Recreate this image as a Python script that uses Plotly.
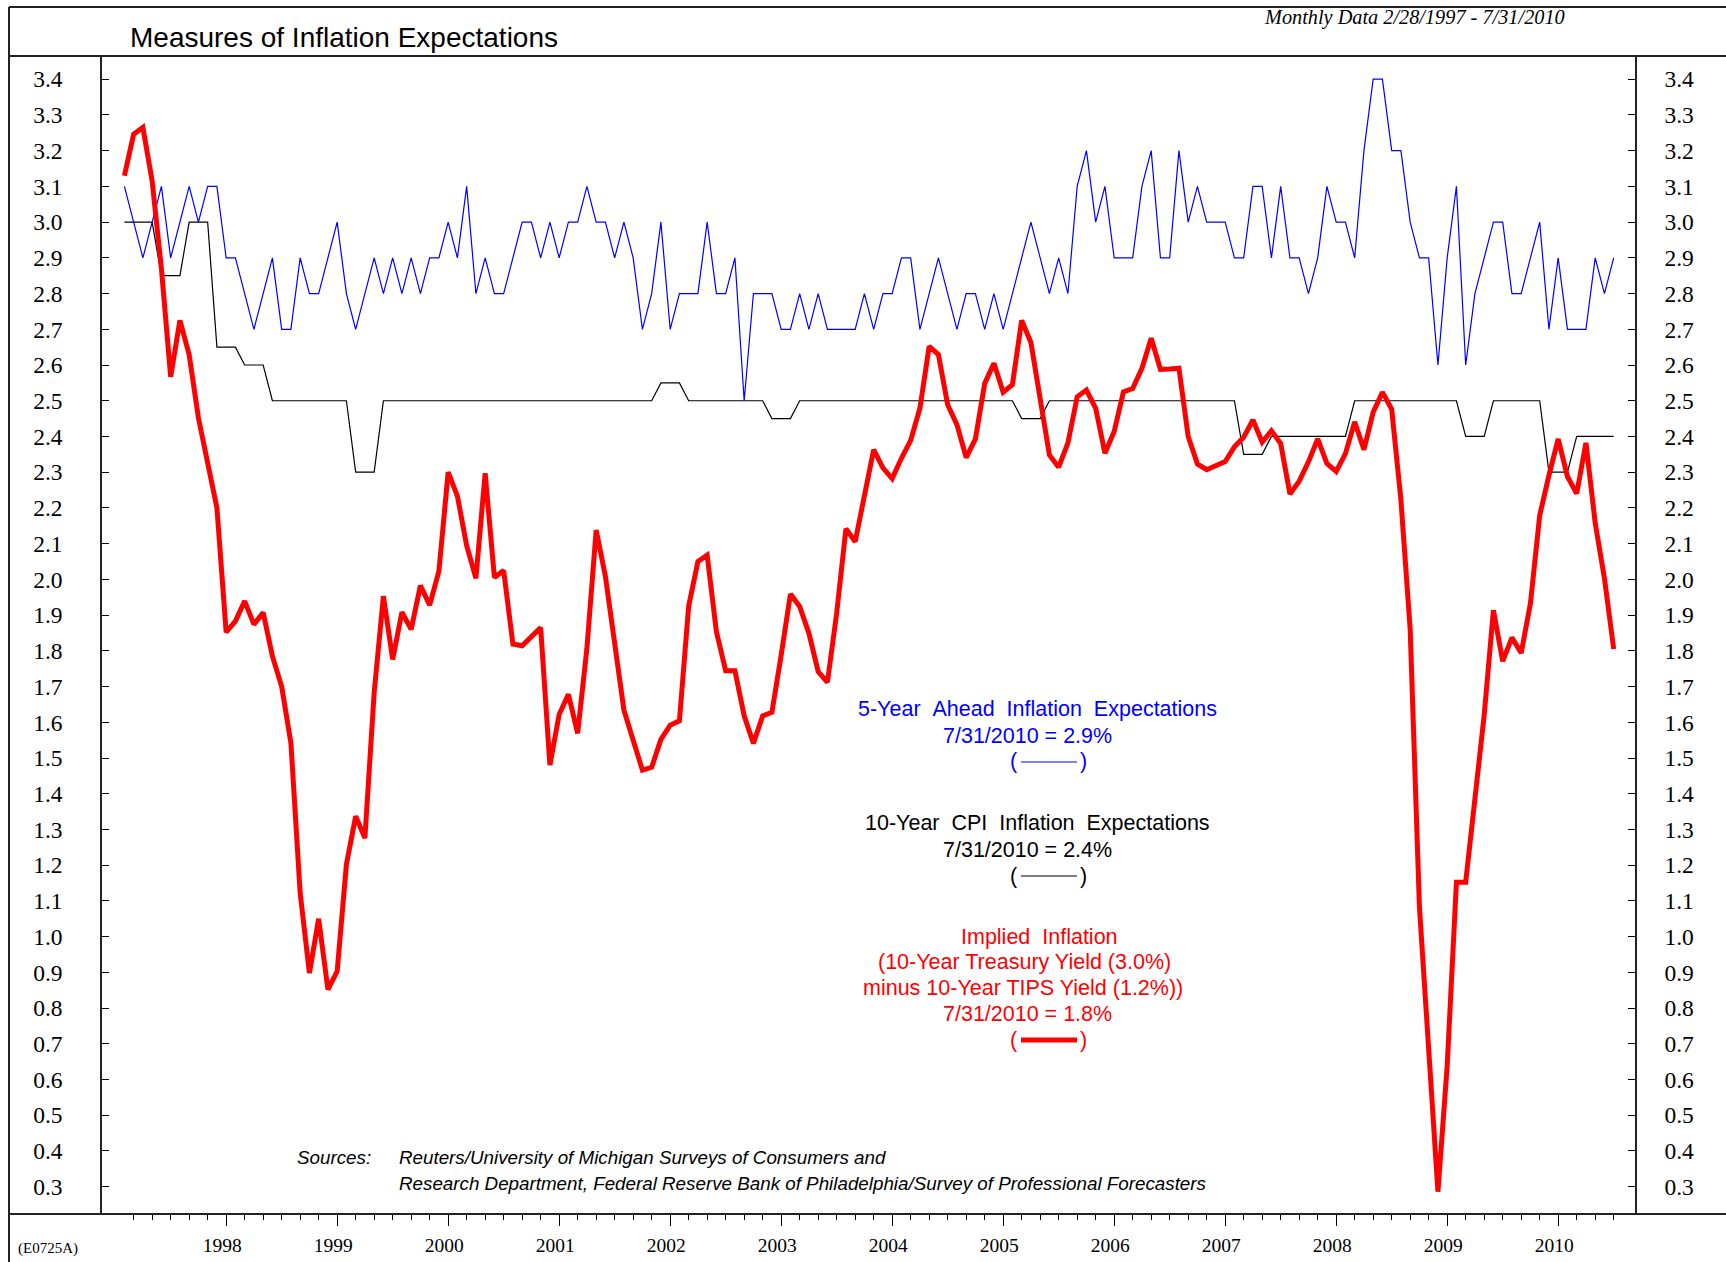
import plotly.graph_objects as go

# ---------------- data (monthly, Feb 1997 .. Jul 2010) ----------------
START_YEAR, START_MONTH, N_MONTHS = 1997, 2, 162

FIVE_YEAR_AHEAD = [
    3.1, 3.0, 2.9, 3.0, 3.1, 2.9, 3.0, 3.1, 3.0, 3.1,
    3.1, 2.9, 2.9, 2.8, 2.7, 2.8, 2.9, 2.7, 2.7, 2.9,
    2.8, 2.8, 2.9, 3.0, 2.8, 2.7, 2.8, 2.9, 2.8, 2.9,
    2.8, 2.9, 2.8, 2.9, 2.9, 3.0, 2.9, 3.1, 2.8, 2.9,
    2.8, 2.8, 2.9, 3.0, 3.0, 2.9, 3.0, 2.9, 3.0, 3.0,
    3.1, 3.0, 3.0, 2.9, 3.0, 2.9, 2.7, 2.8, 3.0, 2.7,
    2.8, 2.8, 2.8, 3.0, 2.8, 2.8, 2.9, 2.5, 2.8, 2.8,
    2.8, 2.7, 2.7, 2.8, 2.7, 2.8, 2.7, 2.7, 2.7, 2.7,
    2.8, 2.7, 2.8, 2.8, 2.9, 2.9, 2.7, 2.8, 2.9, 2.8,
    2.7, 2.8, 2.8, 2.7, 2.8, 2.7, 2.8, 2.9, 3.0, 2.9,
    2.8, 2.9, 2.8, 3.1, 3.2, 3.0, 3.1, 2.9, 2.9, 2.9,
    3.1, 3.2, 2.9, 2.9, 3.2, 3.0, 3.1, 3.0, 3.0, 3.0,
    2.9, 2.9, 3.1, 3.1, 2.9, 3.1, 2.9, 2.9, 2.8, 2.9,
    3.1, 3.0, 3.0, 2.9, 3.2, 3.4, 3.4, 3.2, 3.2, 3.0,
    2.9, 2.9, 2.6, 2.9, 3.1, 2.6, 2.8, 2.9, 3.0, 3.0,
    2.8, 2.8, 2.9, 3.0, 2.7, 2.9, 2.7, 2.7, 2.7, 2.9,
    2.8, 2.9,
]

TEN_YEAR_CPI = (
    [3.0] * 4 + [2.85] * 3 + [3.0] * 3 + [2.65] * 3 + [2.6] * 3 +
    [2.5] * 9 + [2.3] * 3 + [2.5] * 30 + [2.55] * 3 + [2.5] * 9 +
    [2.45] * 3 + [2.5] * 24 + [2.45] * 3 + [2.5] * 21 + [2.35] * 3 +
    [2.4] * 9 + [2.5] * 12 + [2.4] * 3 + [2.5] * 6 + [2.3] * 3 + [2.4] * 5
)

IMPLIED = [
    3.13, 3.246, 3.265, 3.115, 2.87, 2.567, 2.725, 2.629, 2.452, 2.329,
    2.20, 1.852, 1.883, 1.939, 1.874, 1.907, 1.785, 1.70, 1.542, 1.122,
    0.898, 1.05, 0.852, 0.903, 1.202, 1.337, 1.276, 1.683, 1.953, 1.776,
    1.908, 1.86, 1.983, 1.928, 2.023, 2.30, 2.233, 2.094, 2.003, 2.297,
    2.005, 2.025, 1.819, 1.814, 1.838, 1.865, 1.48, 1.622, 1.678, 1.569,
    1.807, 2.138, 2.008, 1.821, 1.634, 1.55, 1.466, 1.474, 1.552, 1.592,
    1.604, 1.925, 2.05, 2.068, 1.853, 1.744, 1.744, 1.618, 1.541, 1.618,
    1.628, 1.788, 1.959, 1.924, 1.849, 1.742, 1.712, 1.905, 2.142, 2.105,
    2.242, 2.363, 2.312, 2.282, 2.339, 2.389, 2.479, 2.652, 2.629, 2.489,
    2.433, 2.341, 2.393, 2.548, 2.605, 2.524, 2.545, 2.725, 2.663, 2.51,
    2.348, 2.314, 2.382, 2.511, 2.53, 2.479, 2.353, 2.414, 2.525, 2.534,
    2.591, 2.675, 2.588, 2.589, 2.591, 2.40, 2.323, 2.307, 2.318, 2.33,
    2.371, 2.398, 2.446, 2.384, 2.416, 2.38, 2.239, 2.275, 2.329, 2.393,
    2.324, 2.302, 2.352, 2.441, 2.363, 2.468, 2.524, 2.476, 2.222, 1.86,
    1.083, 0.68, 0.286, 0.638, 1.152, 1.152, 1.403, 1.62, 1.914, 1.771,
    1.837, 1.794, 1.933, 2.179, 2.291, 2.393, 2.288, 2.24, 2.382, 2.158,
    2.003, 1.805,
]

YEAR_TICKS = list(range(1998, 2011))
Y_TICKS = [round(0.3 + 0.1 * i, 1) for i in range(32)]

# x positions as fractional years (month start)
X = [START_YEAR + (START_MONTH - 1 + i) / 12.0 for i in range(N_MONTHS)]

# ---------------- layout geometry (pixels) ----------------
FW, FH = 1726, 1262
L, R, T, B = 102, 91, 56, 48
PW, PH = FW - L - R, FH - T - B


def px(xp):
    return (xp - L) / PW


def py(yp):
    return (FH - B - yp) / PH


SANS = "Liberation Sans, Arial, sans-serif"
SERIF = "Liberation Serif, Times New Roman, serif"
SP2 = " \u00a0"  # double space that survives SVG whitespace collapsing

fig = go.Figure()
fig.add_trace(go.Scatter(x=X, y=TEN_YEAR_CPI, mode="lines",
                         line=dict(color="#000000", width=1.2), showlegend=False))
fig.add_trace(go.Scatter(x=X, y=FIVE_YEAR_AHEAD, mode="lines",
                         line=dict(color="#0000FF", width=1.2), showlegend=False))
fig.add_trace(go.Scatter(x=X, y=IMPLIED, mode="lines",
                         line=dict(color="#FF0000", width=5), showlegend=False))
fig.add_trace(go.Scatter(x=[None], y=[None], yaxis="y2", showlegend=False))

YR = [0.2236, 3.465]
minor_vals = [1997 + k / 6.0 for k in range(1, 82) if k % 6 != 0]

fig.update_layout(
    width=FW, height=FH,
    margin=dict(l=L, r=R, t=T, b=B, pad=0, autoexpand=False),
    paper_bgcolor="white", plot_bgcolor="white",
    showlegend=False,
    xaxis=dict(range=[1996.8815, 2010.692], tickmode="array",
               tickvals=YEAR_TICKS, ticktext=[str(y) for y in YEAR_TICKS],
               ticks="outside", ticklen=11, tickwidth=1, tickcolor="#000",
               showline=False, showgrid=False, zeroline=False, automargin=False,
               tickfont=dict(family=SERIF, size=19.5, color="#000"),
               ticklabelstandoff=3, ticklabelshift=-4,
               minor=dict(tickvals=minor_vals, ticks="outside", ticklen=5,
                          tickwidth=1, tickcolor="#000", showgrid=False)),
    yaxis=dict(range=YR, tickmode="array", tickvals=Y_TICKS,
               ticktext=["%.1f" % v for v in Y_TICKS],
               ticks="inside", ticklen=7, tickwidth=1, tickcolor="#000",
               showline=True, linecolor="#222", linewidth=1.5,
               showgrid=False, zeroline=False, automargin=False,
               tickfont=dict(family=SERIF, size=23.5, color="#000"),
               ticklabelstandoff=33),
    yaxis2=dict(range=YR, overlaying="y", side="right", tickmode="array",
                tickvals=Y_TICKS, ticktext=["%.1f" % v for v in Y_TICKS],
                ticks="inside", ticklen=7, tickwidth=1, tickcolor="#000",
                showline=True, linecolor="#222", linewidth=1.5,
                showgrid=False, zeroline=False, automargin=False,
                tickfont=dict(family=SERIF, size=23.5, color="#000"),
                ticklabelstandoff=23),
)

FRAME = dict(color="#222", width=2)
shapes = [
    # outer frame left and top
    dict(type="line", xref="paper", yref="paper", x0=px(9), x1=px(9), y0=py(7), y1=py(FH + 5), line=FRAME),
    dict(type="line", xref="paper", yref="paper", x0=px(9), x1=px(FW + 5), y0=py(7), y1=py(7), line=FRAME),
    # title separator / plot top
    dict(type="line", xref="paper", yref="paper", x0=px(9), x1=px(FW + 5), y0=1, y1=1, line=FRAME),
    # bottom axis line across frame
    dict(type="line", xref="paper", yref="paper", x0=px(9), x1=px(FW + 5), y0=0, y1=0, line=FRAME),
    # legend sample lines
    dict(type="line", xref="paper", yref="paper", x0=px(1021), x1=px(1077), y0=py(762), y1=py(762),
         line=dict(color="#0000FF", width=1.2)),
    dict(type="line", xref="paper", yref="paper", x0=px(1021), x1=px(1077), y0=py(876), y1=py(876),
         line=dict(color="#000000", width=1.2)),
    dict(type="line", xref="paper", yref="paper", x0=px(1021), x1=px(1077), y0=py(1040), y1=py(1040),
         line=dict(color="#FF0000", width=5)),
]
fig.update_layout(shapes=shapes)


def ann(text, x, y, color="#000", size=21.5, family=SANS, xanchor="center", italic=False):
    if italic:
        text = "<i>" + text + "</i>"
    fig.add_annotation(text=text, xref="paper", yref="paper", x=px(x), y=py(y),
                       xanchor=xanchor, yanchor="middle", showarrow=False,
                       font=dict(family=family, size=size, color=color))


ann("Measures of Inflation Expectations", 128, 38, size=28, xanchor="left")
ann("Monthly Data 2/28/1997 - 7/31/2010", 1414, 17, size=20.3, family=SERIF, italic=True)

BLUE, RED = "#0000FF", "#FF0000"
ann(SP2.join(["5-Year", "Ahead", "Inflation", "Expectations"]), 1037, 709, color=BLUE)
ann("7/31/2010 = 2.9%", 1027, 736, color=BLUE)
ann("(", 1014, 761, color=BLUE)
ann(")", 1083, 761, color=BLUE)

ann(SP2.join(["10-Year", "CPI", "Inflation", "Expectations"]), 1037, 823)
ann("7/31/2010 = 2.4%", 1027, 850)
ann("(", 1014, 876)
ann(")", 1083, 876)

ann(SP2.join(["Implied", "Inflation"]), 1039, 937, color=RED)
ann("(10-Year Treasury Yield (3.0%)", 1024, 962, color=RED)
ann("minus 10-Year TIPS Yield (1.2%))", 1023, 988, color=RED)
ann("7/31/2010 = 1.8%", 1027, 1014, color=RED)
ann("(", 1014, 1040, color=RED)
ann(")", 1083, 1040, color=RED)

ann("Sources:", 295, 1157, size=18.8, xanchor="left", italic=True)
ann("Reuters/University of Michigan Surveys of Consumers and", 397, 1157, size=18.8,
    xanchor="left", italic=True)
ann("Research Department, Federal Reserve Bank of Philadelphia/Survey of Professional Forecasters",
    397, 1183, size=18.8, xanchor="left", italic=True)
ann("(E0725A)", 48, 1248, size=15, family=SERIF)

fig.write_html("out.html", config={"displayModeBar": False},
               post_script="document.body.style.margin='0px';")
